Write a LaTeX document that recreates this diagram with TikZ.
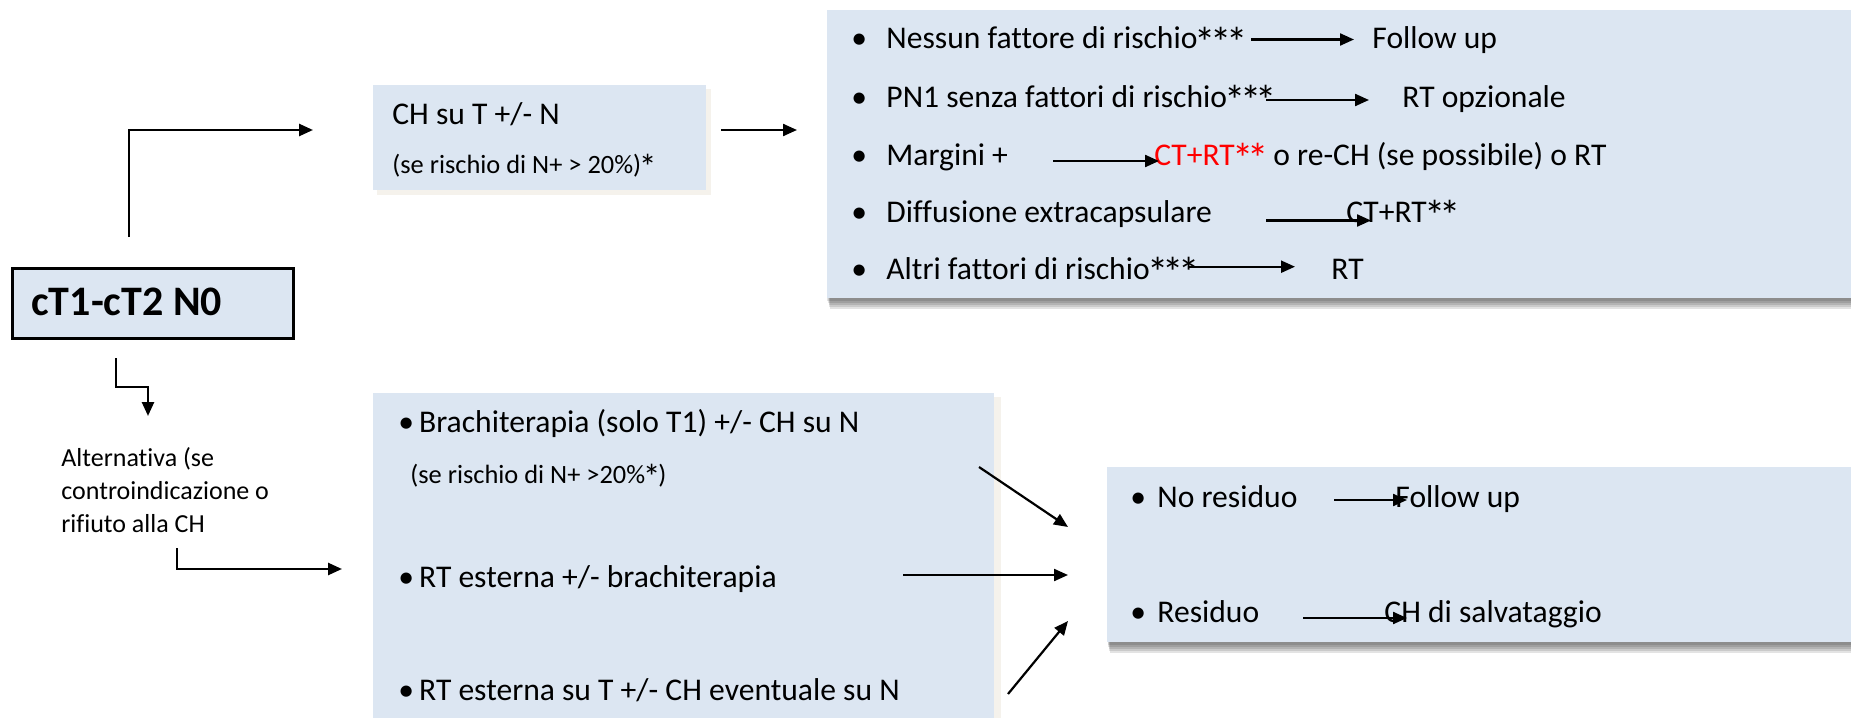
\documentclass[tikz,border=0pt]{standalone}
\usepackage{fontspec}
\usepackage{graphicx}
\setmainfont{Carlito}[Ligatures=NoCommon]
\usetikzlibrary{arrows.meta,backgrounds}
\definecolor{boxfill}{RGB}{220,230,242}
\definecolor{softshade}{RGB}{245,242,236}
% a larger asterisk that keeps the normal advance width
\newlength\riskstarwd
\newcommand\riskstar{\settowidth{\riskstarwd}{*}\makebox[\riskstarwd][c]{\raisebox{-0.26em}{\scalebox{1.35}{*}}}}

\begin{document}
\begin{tikzpicture}[x=0.5pt,y=-0.5pt,
  box/.style={fill=boxfill, draw=none, inner sep=0pt, anchor=north west},
  keybox/.style={box, draw=black, line width=1.5pt},
  txt/.style={anchor=base west, inner sep=0pt, font=\fontsize{15.8}{19}\selectfont},
  smalltxt/.style={anchor=base west, inner sep=0pt, font=\fontsize{13.2}{16}\selectfont},
  notetxt/.style={anchor=base west, inner sep=0pt, font=\fontsize{13}{16}\selectfont},
  keytxt/.style={anchor=base west, inner sep=0pt, font=\fontsize{21}{25}\bfseries\selectfont},
  arr/.style={line width=1.1pt, -{Triangle[length=7pt,width=6pt]}},
  elbow/.style={line width=1.25pt, -{Triangle[length=7pt,width=6pt]}}]

\useasboundingbox (0,0) rectangle (1851,717);
\clip (0,0) rectangle (1851,717);

% boxes
\node[keybox, minimum width=140.3pt, minimum height=35.25pt] (main) at (10.9,266.5) {};
\node[box, minimum width=166.5pt, minimum height=52.5pt] (chbox) at (373,85) {};
\node[box, minimum width=520pt, minimum height=144.2pt] (risk) at (826.7,9.3) {};
\node[box, minimum width=310.5pt, minimum height=170pt] (alt) at (373,393) {};
\node[box, minimum width=376.5pt, minimum height=87.35pt] (resid) at (1107,467) {};

% page and shadows
\begin{scope}[on background layer]
  \fill[white] (0,0) rectangle (1851,717);
  \fill[softshade] ([shift={(2pt,-2pt)}]chbox.south west) rectangle ([shift={(2pt,-2pt)}]chbox.north east);
  \fill[softshade] ([shift={(3pt,-2pt)}]alt.south west) rectangle ([shift={(3pt,-2pt)}]alt.north east);
  \foreach \k in {1,...,5} {
    \fill[black,opacity=0.11] ([xshift={0.3pt*\k},yshift={-1pt*\k}]risk.south west) rectangle ([xshift={0.3pt*\k},yshift={-1pt*\k}]risk.north east);
    \fill[black,opacity=0.11] ([xshift={0.3pt*\k},yshift={-1pt*\k}]resid.south west) rectangle ([xshift={0.3pt*\k},yshift={-1pt*\k}]resid.north east);
  }
\end{scope}

% main stage
\node[keytxt] (stage) at (31,315) {cT1-cT2 N0};

% surgery box
\node[txt] (ch1) at (392,125) {CH su T +/- N};
\node[smalltxt] (ch2) at (392,173) {(se rischio di N+ > 20\%)\riskstar};

% risk factors
\node[txt] (rb1) at (851,49) {•};
\node[txt] (rb2) at (851,107) {•};
\node[txt] (rb3) at (851,165) {•};
\node[txt] (rb4) at (851,222) {•};
\node[txt] (rb5) at (851,279) {•};
\node[txt] (r1) at (886,49) {Nessun fattore di rischio\riskstar\riskstar\riskstar};
\node[txt] (r1o) at (1372,49) {Follow up};
\node[txt] (r2) at (886,107) {PN1 senza fattori di rischio\riskstar\riskstar\riskstar};
\node[txt] (r2o) at (1402,107) {RT opzionale};
\node[txt] (r3) at (886,165) {Margini +};
\node[txt] (r3o) at (1154,165) {{\color{red}CT+RT\riskstar\riskstar} o re-CH (se possibile) o RT};
\node[txt] (r4) at (886,222) {Diffusione extracapsulare};
\node[txt] (r4o) at (1346,222) {CT+RT\riskstar\riskstar};
\node[txt] (r5) at (886,279) {Altri fattori di rischio\riskstar\riskstar\riskstar};
\node[txt] (r5o) at (1331,279) {RT};

\coordinate (r1a) at (1251,39.5); \coordinate (r1b) at (1354,39.5);
\coordinate (r2a) at (1266,100);  \coordinate (r2b) at (1369,100);
\coordinate (r3a) at (1053,161);  \coordinate (r3b) at (1159,161);
\coordinate (r4a) at (1266,220.5);\coordinate (r4b) at (1371,220.5);
\coordinate (r5a) at (1188,266.7);\coordinate (r5b) at (1295,266.7);
\draw[arr] (r1a) -- (r1b);
\draw[arr] (r2a) -- (r2b);
\draw[arr] (r3a) -- (r3b);
\draw[arr] (r4a) -- (r4b);
\draw[arr] (r5a) -- (r5b);

% alternative branch
\node[notetxt] (al1) at (61,466) {Alternativa (se};
\node[notetxt] (al2) at (61,499) {controindicazione o};
\node[notetxt] (al3) at (61,532) {rifiuto alla CH};

\node[txt] (t1) at (398,432) {•\hspace{2.5pt}Brachiterapia (solo T1) +/- CH su N};
\node[smalltxt] (t1n) at (410,483) {(se rischio di N+ >20\%\riskstar)};
\node[txt] (t2) at (398,587) {•\hspace{2.5pt}RT esterna +/- brachiterapia};
\node[txt] (t3) at (398,700.5) {•\hspace{2.5pt}RT esterna su T +/- CH eventuale su N};

% residual disease
\node[txt] (sb1) at (1130,507) {•};
\node[txt] (sb2) at (1130,622.5) {•};
\node[txt] (s1) at (1157,507) {No residuo};
\node[txt] (s1o) at (1395,507) {Follow up};
\node[txt] (s2) at (1157,622.5) {Residuo};
\node[txt] (s2o) at (1384,622.5) {CH di salvataggio};
\coordinate (s1a) at (1334,500); \coordinate (s1b) at (1407,500);
\coordinate (s2a) at (1303,618); \coordinate (s2b) at (1407,618);
\draw[arr] (s1a) -- (s1b);
\draw[arr] (s2a) -- (s2b);

% connectors
\coordinate (m0) at (129,237);  \coordinate (m1) at (313,130);
\draw[elbow] (m0) |- (m1);
\coordinate (c0) at (721,130);  \coordinate (c1) at (797,130);
\draw[arr] (c0) -- (c1);
\coordinate (d0) at (116,358);  \coordinate (dk) at (116,387);  \coordinate (d1) at (148,416);
\draw[elbow] (d0) -- (dk) -| (d1);
\coordinate (e0) at (177,548);  \coordinate (e1) at (342,569);
\draw[elbow] (e0) |- (e1);
\coordinate (x1) at (979,467);  \coordinate (y1) at (1068,527);
\coordinate (x2) at (903,575);  \coordinate (y2) at (1068,575);
\coordinate (x3) at (1008,694); \coordinate (y3) at (1068,621);
\draw[arr] (x1) -- (y1);
\draw[arr] (x2) -- (y2);
\draw[arr] (x3) -- (y3);
\end{tikzpicture}
\end{document}
